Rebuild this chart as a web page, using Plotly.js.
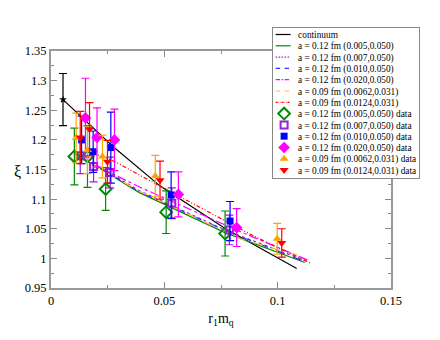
<!DOCTYPE html>
<html>
<head>
<meta charset="utf-8">
<script src="https://cdn.plot.ly/plotly-3.0.1.min.js"></script>
<style>html,body{margin:0;padding:0;background:#fff}</style>
</head>
<body>
<div id="chart" style="width:440px;height:340px"></div>
<script>
// continuum extrapolation
const contX = [0.0053, 0.0276, 0.0482, 0.077, 0.1084];
const contY = [1.268, 1.188, 1.122, 1.050, 0.983];
const contPtX = [0.0053];
const contPtY = [1.268];
const contPtErr = [0.044];

// fit curves per ensemble
const fitGreenX = [0.0105, 0.022, 0.039, 0.077, 0.112];
const fitGreenY = [1.176, 1.151, 1.111, 1.043, 0.993];
const fitPurpleX = [0.013, 0.022, 0.039, 0.078, 0.113];
const fitPurpleY = [1.170, 1.153, 1.114, 1.046, 0.995];
const fitBlueX = [0.0135, 0.022, 0.039, 0.078, 0.113];
const fitBlueY = [1.169, 1.152, 1.112, 1.045, 0.993];
const fitMagentaX = [0.0152, 0.028, 0.0393, 0.083, 0.114];
const fitMagentaY = [1.165, 1.141, 1.120, 1.046, 0.996];
const fitOrangeX = [0.0111, 0.022, 0.0393, 0.0835, 0.112];
const fitOrangeY = [1.172, 1.150, 1.113, 1.033, 1.002];
const fitRedX = [0.017, 0.0284, 0.0393, 0.0893, 0.115];
const fitRedY = [1.180, 1.163, 1.140, 1.038, 0.991];

// lattice data
const greenX = [0.0103, 0.0161, 0.0241, 0.0508, 0.0768];
const greenY = [1.172, 1.172, 1.117, 1.078, 1.042];
const greenErr = [0.048, 0.052, 0.036, 0.036, 0.038];
const purpleX = [0.0129, 0.0188, 0.0261, 0.0533, 0.0787];
const purpleY = [1.173, 1.155, 1.145, 1.093, 1.048];
const purpleErr = [0.030, 0.026, 0.026, 0.026, 0.025];
const blueX = [0.0135, 0.0186, 0.0264, 0.053, 0.079];
const blueY = [1.200, 1.180, 1.187, 1.107, 1.063];
const blueErr = [0.040, 0.035, 0.060, 0.039, 0.033];
const magentaX = [0.0152, 0.0203, 0.028, 0.0562, 0.0819];
const magentaY = [1.237, 1.204, 1.200, 1.108, 1.052];
const magentaErr = [0.067, 0.050, 0.052, 0.038, 0.032];
const orangeX = [0.0111, 0.0161, 0.0227, 0.046, 0.0998];
const orangeY = [1.203, 1.183, 1.172, 1.139, 1.033];
const orangeErr = [0.042, 0.040, 0.036, 0.035, 0.026];
const redX = [0.0129, 0.017, 0.0249, 0.0481, 0.1018];
const redY = [1.204, 1.218, 1.163, 1.132, 1.026];
const redErr = [0.044, 0.045, 0.036, 0.032, 0.024];

const COLORS = {
  green: "#008c00",
  purple: "#9a1fd6",
  blue: "#0000ff",
  magenta: "#ff00ff",
  orange: "#ffa500",
  red: "#ff0000",
};
const FONT = "Liberation Serif";
const LEGEND_ROW = 11.3;

function fitLine(x, y, name, color, dash) {
  return { x, y, type: "scatter", mode: "lines", name,
           line: { color, width: 1.2, dash } };
}

function dataTrace(x, y, err, name, color, symbol, size, lineWidth = 0) {
  return {
    x, y, type: "scatter", mode: "markers", name,
    marker: { color, symbol, size, line: { color, width: lineWidth } },
    error_y: { type: "data", array: err, visible: true, color, thickness: 1.2, width: 4 },
  };
}

const traces = [
  { x: contX, y: contY, type: "scatter", mode: "lines", name: "continuum",
    line: { color: "#000", width: 1.2 } },
  fitLine(fitGreenX, fitGreenY, "a = 0.12 fm (0.005,0.050)", COLORS.green, "solid"),
  fitLine(fitPurpleX, fitPurpleY, "a = 0.12 fm (0.007,0.050)", COLORS.purple, "dot"),
  fitLine(fitBlueX, fitBlueY, "a = 0.12 fm (0.010,0.050)", "#3333ff", "dash"),
  fitLine(fitMagentaX, fitMagentaY, "a = 0.12 fm (0.020,0.050)", COLORS.magenta, "dashdot"),
  fitLine(fitOrangeX, fitOrangeY, "a = 0.09 fm (0.0062,0.031)", "#ffb84d", "dash"),
  fitLine(fitRedX, fitRedY, "a = 0.09 fm (0.0124,0.031)", COLORS.red, "4px,2px,1px,2px,1px,2px"),
  dataTrace(greenX, greenY, greenErr, "a = 0.12 fm (0.005,0.050) data", COLORS.green, "diamond-open", 9, 2),
  dataTrace(purpleX, purpleY, purpleErr, "a = 0.12 fm (0.007,0.050) data", COLORS.purple, "square-open", 7, 2),
  dataTrace(blueX, blueY, blueErr, "a = 0.12 fm (0.010,0.050) data", COLORS.blue, "square", 7),
  dataTrace(magentaX, magentaY, magentaErr, "a = 0.12 fm (0.020,0.050) data", COLORS.magenta, "diamond", 9),
  dataTrace(orangeX, orangeY, orangeErr, "a = 0.09 fm (0.0062,0.031) data", COLORS.orange, "triangle-up", 8),
  dataTrace(redX, redY, redErr, "a = 0.09 fm (0.0124,0.031) data", COLORS.red, "triangle-down", 8),
  { x: contPtX, y: contPtY, type: "scatter", mode: "markers", showlegend: false,
    marker: { color: "#000", symbol: "star", size: 6 },
    error_y: { type: "data", array: contPtErr, visible: true, color: "#000", thickness: 1.2, width: 4 } },
];

const axisBase = {
  showline: true, linecolor: "#999", linewidth: 2, mirror: "ticks",
  ticks: "inside", ticklen: 6, tickcolor: "#888", tickwidth: 1,
  showgrid: false, zeroline: false,
  tickfont: { family: FONT, size: 12.5, color: "#000" },
};

const layout = {
  width: 440, height: 340,
  margin: { l: 51, r: 49, t: 51, b: 52, autoexpand: false },
  paper_bgcolor: "#fff", plot_bgcolor: "#fff",
  font: { family: FONT, color: "#000" },
  xaxis: { ...axisBase, range: [0, 0.15], tick0: 0, dtick: 0.05,
           minor: { dtick: 0.025, ticks: "inside", ticklen: 3, tickcolor: "#888" },
           title: { text: "r<sub>1</sub>m<sub>q</sub>", font: { family: FONT, size: 14 }, standoff: 6 } },
  yaxis: { ...axisBase, range: [0.95, 1.35], tick0: 0.95, dtick: 0.05,
           minor: { dtick: 0.025, ticks: "inside", ticklen: 3, tickcolor: "#888" } },
  annotations: [{ text: "ξ", xref: "paper", yref: "paper", x: -0.114, y: 0.49,
                  showarrow: false, font: { family: FONT, size: 16 } }],
  showlegend: true,
  legend: { x: 0.6503, y: 1.1013, xanchor: "left", yanchor: "top",
            bgcolor: "#fff", bordercolor: "#888", borderwidth: 1,
            font: { family: FONT, size: 9.3, color: "#000" } },
};

function compactLegend(gd) {
  const legend = gd.querySelector(".legend");
  if (!legend) return;
  const items = legend.querySelectorAll(".traces");
  let maxW = 0;
  items.forEach((g, i) => {
    const m = /translate\(([-\d.]+)[ ,]+([-\d.]+)\)/.exec(g.getAttribute("transform") || "");
    const x = m ? parseFloat(m[1]) : 1;
    g.setAttribute("transform", `translate(${x},${7.5 + i * LEGEND_ROW})`);
    const text = g.querySelector(".legendtext");
    if (text) {
      text.setAttribute("x", 25);
      maxW = Math.max(maxW, text.getBBox().width);
    }
    const lines = g.querySelector(".legendlines");
    if (lines) lines.setAttribute("transform", "scale(0.5,1)");
    const pts = g.querySelector(".legendpoints");
    if (pts) pts.setAttribute("transform", "translate(-9,0)");
  });
  const bg = legend.querySelector("rect.bg");
  if (bg) {
    bg.setAttribute("height", 15 + (items.length - 1) * LEGEND_ROW);
    bg.setAttribute("width", 25 + maxW + 4);
  }
}

const gd = document.getElementById("chart");
Plotly.newPlot(gd, traces, layout, { staticPlot: true }).then(() => {
  compactLegend(gd);
  gd.on && gd.on("plotly_afterplot", () => compactLegend(gd));
});
</script>
</body>
</html>
